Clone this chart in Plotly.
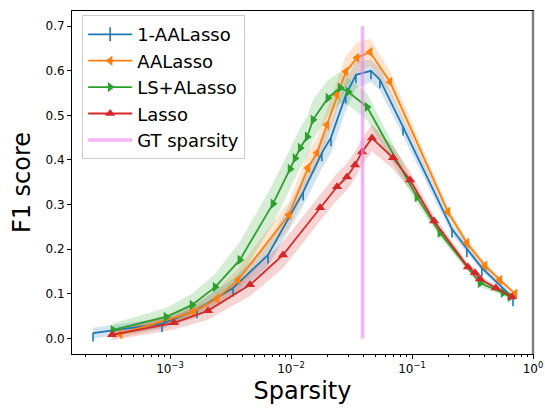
import numpy as np
import plotly.graph_objects as go

# ---- data -----------------------------------------------------------------
aal1_x = [2.31e-4, 8.59e-4, 1.67e-3, 3.32e-3, 6.46e-3, 1.26e-2, 1.80e-2, 2.14e-2, 2.84e-2,
          3.44e-2, 4.58e-2, 5.43e-2, 8.43e-2, 0.214, 0.284, 0.378, 0.684]
aal1_y = [0.012, 0.033, 0.064, 0.113, 0.187, 0.328, 0.416, 0.450, 0.546,
          0.591, 0.600, 0.580, 0.474, 0.245, 0.201, 0.158, 0.091]
aal1_sd = [0.012, 0.012, 0.015, 0.02, 0.025, 0.03, 0.035, 0.035, 0.035,
           0.03, 0.025, 0.025, 0.02, 0.012, 0.01, 0.008, 0.006]

aal_x = [3.86e-4, 1.55e-3, 2.44e-3, 3.65e-3, 9.62e-3, 1.38e-2, 1.64e-2, 1.98e-2, 2.40e-2,
         2.84e-2, 3.51e-2, 4.50e-2, 6.58e-2, 0.198, 0.284, 0.401, 0.533, 0.710]
aal_y = [0.010, 0.059, 0.089, 0.131, 0.277, 0.382, 0.416, 0.479, 0.546,
         0.598, 0.629, 0.642, 0.575, 0.284, 0.214, 0.163, 0.131, 0.100]
aal_sd = [0.01, 0.015, 0.02, 0.025, 0.03, 0.035, 0.035, 0.035, 0.035,
          0.035, 0.035, 0.03, 0.025, 0.01, 0.01, 0.008, 0.006, 0.005]

ls_x = [3.38e-4, 9.27e-4, 1.52e-3, 2.36e-3, 3.78e-3, 7.10e-3, 9.82e-3, 1.08e-2, 1.19e-2, 1.36e-2,
        1.52e-2, 2.02e-2, 2.54e-2, 2.96e-2, 4.25e-2, 0.110, 0.170, 0.365, 0.565, 0.646]
ls_y = [0.019, 0.048, 0.075, 0.115, 0.176, 0.302, 0.380, 0.404, 0.427, 0.452,
        0.490, 0.539, 0.562, 0.553, 0.519, 0.317, 0.237, 0.124, 0.102, 0.093]
ls_sd = [0.015, 0.02, 0.025, 0.03, 0.04, 0.045, 0.045, 0.045, 0.045, 0.045,
         0.045, 0.04, 0.035, 0.03, 0.03, 0.015, 0.01, 0.008, 0.006, 0.005]

lasso_x = [3.32e-4, 1.08e-3, 2.06e-3, 4.58e-3, 8.59e-3, 1.74e-2, 2.40e-2, 2.90e-2, 3.38e-2, 3.86e-2,
           4.67e-2, 6.97e-2, 9.62e-2, 0.152, 0.290, 0.332, 0.365, 0.494, 0.670]
lasso_y = [0.008, 0.035, 0.062, 0.120, 0.187, 0.293, 0.340, 0.362, 0.389, 0.418,
           0.449, 0.405, 0.355, 0.263, 0.160, 0.147, 0.133, 0.113, 0.093]
lasso_sd = [0.012, 0.015, 0.02, 0.025, 0.03, 0.03, 0.03, 0.03, 0.03, 0.03,
            0.03, 0.025, 0.02, 0.012, 0.008, 0.008, 0.007, 0.006, 0.005]

gt_sparsity = 0.039
gt_span = [0.0, 0.7]

# ---- style ----------------------------------------------------------------
series = [
    ("1-AALasso", aal1_x, aal1_y, aal1_sd, "#1f77b4", None),
    ("AALasso", aal_x, aal_y, aal_sd, "#ff7f0e", "triangle-left"),
    ("LS+ALasso", ls_x, ls_y, ls_sd, "#2ca02c", "triangle-right"),
    ("Lasso", lasso_x, lasso_y, lasso_sd, "#d62728", "triangle-up"),
]


def rgba(hex_col, a):
    h = hex_col.lstrip("#")
    r, g, b = int(h[0:2], 16), int(h[2:4], 16), int(h[4:6], 16)
    return f"rgba({r},{g},{b},{a})"


fig = go.Figure()

# shaded spread bands
for name, x, y, sd, col, sym in series:
    y = np.array(y)
    sd = np.array(sd)
    fig.add_trace(go.Scatter(
        x=list(x) + list(x)[::-1],
        y=list(y + sd) + list((y - sd)[::-1]),
        fill="toself", fillcolor=rgba(col, 0.2), line=dict(width=0),
        hoverinfo="skip", showlegend=False, mode="lines"))

# mean curves
for rank, (name, x, y, sd, col, sym) in enumerate(series):
    if sym is None:
        # tick-down markers: short downward strokes hanging from each point
        fig.add_trace(go.Scatter(
            x=x, y=y, mode="lines", line=dict(color=col, width=1.8),
            error_y=dict(type="data", symmetric=False, array=[0] * len(y),
                         arrayminus=[0.019] * len(y), color=col, thickness=1.6, width=0),
            showlegend=False))
        fig.add_trace(go.Scatter(
            x=[None], y=[None], mode="lines+markers", name=name,
            line=dict(color=col, width=1.8),
            marker=dict(symbol="line-ns-open", size=10, line=dict(color=col, width=1.6)),
            legendrank=rank + 1))
    else:
        fig.add_trace(go.Scatter(
            x=x, y=y, mode="lines+markers", name=name,
            line=dict(color=col, width=1.8),
            marker=dict(symbol=sym, size=9, color=col, line=dict(width=0)),
            legendrank=rank + 1))

# ground-truth sparsity marker line
fig.add_trace(go.Scatter(
    x=[gt_sparsity, gt_sparsity], y=gt_span, mode="lines", name="GT sparsity",
    line=dict(color="rgba(238,130,238,0.6)", width=3.5), legendrank=5))

minor_vals = [m * 10.0 ** e for e in range(-4, 0) for m in range(2, 10)]

fig.update_layout(
    width=545, height=408,
    margin=dict(l=72, r=12, t=11, b=54),
    paper_bgcolor="white", plot_bgcolor="white",
    font=dict(family="DejaVu Sans", size=12, color="black"),
    legend=dict(
        x=0.022, y=0.988, xanchor="left", yanchor="top",
        bgcolor="rgba(255,255,255,0.8)", bordercolor="#cccccc", borderwidth=1,
        font=dict(size=18), itemwidth=44),
    showlegend=True,
    shapes=[dict(type="line", xref="paper", yref="paper", x0=1, x1=1, y0=0, y1=1,
                 line=dict(color="#808080", width=2.5))],
)

fig.update_xaxes(
    type="log", range=[-3.81, 0], automargin=False,
    tickvals=[1e-3, 1e-2, 1e-1, 1e0],
    ticktext=["10<sup>−3</sup>", "10<sup>−2</sup>", "10<sup>−1</sup>", "10<sup>0</sup>"],
    ticks="outside", ticklen=4, tickwidth=1, tickcolor="black",
    tickfont=dict(size=12),
    minor=dict(tickvals=minor_vals, ticks="outside", ticklen=2, tickwidth=0.8, tickcolor="black"),
    showline=True, linecolor="black", linewidth=1, mirror=True,
    showgrid=False, zeroline=False,
    title=dict(text="Sparsity", font=dict(size=24), standoff=6),
)
fig.update_yaxes(
    range=[-0.035, 0.734], automargin=False,
    tickvals=[0.0, 0.1, 0.2, 0.3, 0.4, 0.5, 0.6, 0.7],
    ticktext=["0.0", "0.1", "0.2", "0.3", "0.4", "0.5", "0.6", "0.7"],
    ticks="outside", ticklen=4, tickwidth=1, tickcolor="black",
    tickfont=dict(size=12),
    showline=True, linecolor="black", linewidth=1, mirror=True,
    showgrid=False, zeroline=False,
    title=dict(text="F1 score", font=dict(size=24), standoff=8),
)

fig.write_html("out.html")
